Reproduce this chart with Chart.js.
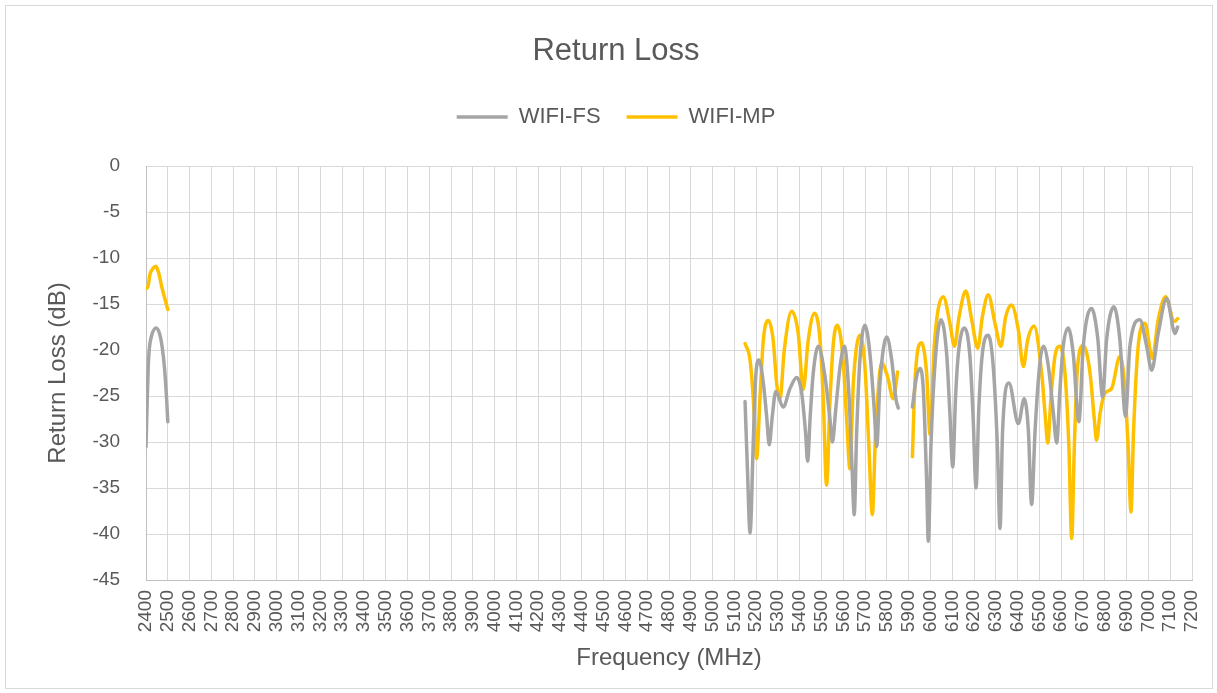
<!DOCTYPE html>
<html>
<head>
<meta charset="utf-8">
<title>Return Loss</title>
<script src="https://cdn.jsdelivr.net/npm/chart.js@4.4.1/dist/chart.umd.min.js"></script>
<style>
  html, body { margin: 0; padding: 0; background: #fff; }
  #frame {
    position: absolute; left: 5px; top: 5px; width: 1206px; height: 682px;
    border: 1px solid #d9d9d9; pointer-events: none;
  }
  #chart { position: absolute; left: 0; top: 0; }
</style>
</head>
<body>
<canvas id="chart" width="1217" height="693"></canvas>
<div id="frame"></div>
<script>
const freqFS = [
  2400, 2405, 2410, 2415, 2425, 2446, 2462, 2475, 2485, 2495, 2500,
  2550,
  5149, 5160, 5172, 5187, 5198, 5213, 5233, 5248, 5260, 5274, 5290, 5324,
  5355, 5386, 5409, 5427, 5436, 5448, 5462, 5485, 5516, 5539, 5550, 5565,
  5585, 5605, 5627, 5641, 5650, 5661, 5676, 5699, 5722, 5742, 5753, 5768,
  5799, 5822, 5842, 5852,
  5885,
  5917, 5936, 5952, 5967, 5982, 5990, 6002, 6021, 6048, 6074, 6089, 6102,
  6115, 6128, 6155, 6181, 6196, 6209, 6222, 6238, 6265, 6288, 6307, 6319,
  6331, 6360, 6403, 6430, 6449, 6464, 6480, 6502, 6518, 6541, 6564, 6579,
  6594, 6609, 6632, 6655, 6681, 6701, 6739, 6767, 6790, 6808, 6842, 6869,
  6895, 6915, 6961, 6992, 7015, 7045, 7084, 7122, 7134,
];
const lossFS = [
  -30.5, -26.0, -22.0, -19.9, -18.5, -17.6, -18.2, -19.8, -22.0, -25.5, -27.8,
  null,
  -25.6, -33.0, -39.9, -29.8, -22.9, -21.1, -23.6, -27.2, -30.3, -27.2, -24.5, -26.2,
  -24.2, -23.0, -24.7, -29.1, -32.1, -27.2, -22.5, -19.6, -22.9, -27.6, -30.0, -26.5,
  -21.8, -19.6, -25.4, -33.4, -37.9, -29.1, -21.1, -17.3, -20.4, -26.5, -30.5, -23.6,
  -18.6, -21.1, -25.4, -26.3,
  null,
  -26.2, -22.9, -22.0, -24.3, -34.1, -40.8, -30.5, -21.4, -16.7, -20.4, -26.9, -32.7,
  -25.1, -20.4, -17.6, -20.7, -27.6, -35.0, -26.2, -20.4, -18.4, -21.8, -30.5, -39.4,
  -28.7, -23.6, -28.0, -25.3, -28.7, -36.8, -28.7, -21.4, -19.6, -21.8, -26.9, -30.1,
  -24.3, -19.6, -17.6, -20.4, -27.8, -19.6, -15.5, -18.6, -25.1, -18.9, -15.3, -18.9,
  -27.2, -19.6, -16.7, -19.6, -22.2, -18.2, -14.4, -18.2, -17.5,
];

const freqMP = [
  2403, 2410, 2418, 2433, 2446, 2460, 2472, 2492, 2500,
  2550,
  5149, 5172, 5187, 5202, 5217, 5233, 5256, 5278, 5294, 5309, 5329, 5363,
  5393, 5416, 5439, 5468, 5493, 5508, 5523, 5539, 5554, 5573, 5599, 5617,
  5630, 5646, 5676, 5699, 5718, 5733, 5748, 5776, 5803, 5829, 5849,
  5885,
  5917, 5929, 5959, 5982, 5998, 6017, 6059, 6089, 6110, 6131, 6162, 6189,
  6217, 6238, 6265, 6296, 6323, 6345, 6372, 6403, 6426, 6446, 6475, 6510,
  6528, 6538, 6553, 6571, 6594, 6617, 6635, 6648, 6660, 6675, 6701, 6732,
  6752, 6762, 6778, 6800, 6831, 6869, 6889, 6907, 6920, 6932, 6953, 6984,
  7018, 7045, 7079, 7119, 7134,
];
const lossMP = [
  -13.3, -13.0, -11.8, -11.1, -10.9, -11.8, -13.1, -14.9, -15.6,
  null,
  -19.3, -21.1, -25.4, -31.8, -25.4, -18.9, -16.8, -18.9, -23.6, -25.4, -20.0, -15.8,
  -18.2, -24.3, -18.9, -16.0, -18.9, -25.4, -34.7, -25.4, -19.3, -17.3, -21.1, -28.3,
  -32.9, -23.6, -18.4, -21.8, -30.9, -37.9, -29.1, -21.4, -22.9, -25.3, -22.4,
  null,
  -31.6, -23.3, -19.2, -22.5, -29.2, -19.6, -14.2, -17.1, -19.6, -16.4, -13.6, -16.7,
  -19.8, -16.4, -14.0, -17.1, -19.6, -16.4, -15.1, -17.8, -21.8, -18.9, -17.4, -22.5,
  -27.6, -30.1, -25.1, -20.7, -19.6, -22.5, -30.5, -40.5, -30.5, -21.8, -19.5, -22.5,
  -27.6, -29.8, -26.9, -24.7, -24.2, -20.7, -23.3, -30.5, -37.6, -28.7, -19.6, -17.1,
  -20.9, -16.7, -14.2, -16.9, -16.6,
];

const freqTicks = [
  2400, 2500, 2600, 2700, 2800, 2900, 3000, 3100, 3200, 3300, 3400, 3500,
  3600, 3700, 3800, 3900, 4000, 4100, 4200, 4300, 4400, 4500, 4600, 4700,
  4800, 4900, 5000, 5100, 5200, 5300, 5400, 5500, 5600, 5700, 5800, 5900,
  6000, 6100, 6200, 6300, 6400, 6500, 6600, 6700, 6800, 6900, 7000, 7100, 7200,
];
const lossTicks = [0, -5, -10, -15, -20, -25, -30, -35, -40, -45];

const textColor = "#595959";
const fontFamily = "'Liberation Sans', Arial, sans-serif";
Chart.defaults.font.family = fontFamily;
Chart.defaults.color = textColor;

const toPoints = (xs, ys) => xs.map((x, i) => ({ x: x, y: ys[i] }));

// empty band between the legend and the plot area
const legendGap = {
  id: "legendGap",
  beforeInit(chart) {
    Chart.layouts.addBox(chart, {
      position: "top",
      weight: 100,
      fullSize: true,
      options: {},
      isHorizontal: () => true,
      update(maxWidth) {
        this.width = maxWidth;
        this.height = 28;
      },
      draw() {},
    });
  },
};

const lineStyle = (color) => ({
  borderColor: color,
  backgroundColor: color,
  pointBorderColor: color,
  borderWidth: 3.5,
  pointBorderWidth: 3.5,
  pointRadius: 0,
  borderCapStyle: "round",
  borderJoinStyle: "round",
  cubicInterpolationMode: "monotone",
});

new Chart(document.getElementById("chart"), {
  type: "line",
  data: {
    datasets: [
      { label: "WIFI-FS", data: toPoints(freqFS, lossFS), ...lineStyle("#A5A5A5") },
      { label: "WIFI-MP", data: toPoints(freqMP, lossMP), ...lineStyle("#FFC000") },
    ],
  },
  options: {
    responsive: false,
    animation: false,
    events: [],
    layout: { padding: { left: 40, right: 25, top: 0, bottom: 8 } },
    plugins: {
      title: {
        display: true,
        text: "Return Loss",
        color: textColor,
        font: { size: 31, weight: "normal" },
        padding: { top: 33, bottom: 9.8 },
      },
      legend: {
        labels: {
          usePointStyle: true,
          pointStyle: "line",
          pointStyleWidth: 51,
          padding: 26,
          color: textColor,
          font: { size: 22 },
        },
      },
      tooltip: { enabled: false },
    },
    scales: {
      x: {
        type: "linear",
        min: 2400,
        max: 7200,
        afterBuildTicks: (scale) => {
          scale.ticks = freqTicks.map((v) => ({ value: v }));
        },
        afterFit: (scale) => {
          scale.height = 105;
          scale.paddingLeft = 0;
          scale.paddingRight = 0;
        },
        ticks: {
          autoSkip: false,
          minRotation: 90,
          maxRotation: 90,
          padding: 10,
          font: { size: 19 },
          callback: (v) => String(v),
        },
        grid: { color: "#D9D9D9", drawTicks: false },
        border: { color: "#BFBFBF" },
        title: {
          display: true,
          text: "Frequency (MHz)",
          font: { size: 24 },
          padding: { top: 0, bottom: 12.6 },
        },
      },
      y: {
        min: -45,
        max: 0,
        afterBuildTicks: (scale) => {
          scale.ticks = lossTicks.map((v) => ({ value: v }));
        },
        afterFit: (scale) => {
          scale.width = 106;
        },
        ticks: {
          padding: 26,
          font: { size: 19 },
          callback: (v) => String(v),
        },
        grid: { color: "#D9D9D9", drawTicks: false },
        border: { color: "#BFBFBF" },
        title: {
          display: true,
          text: "Return Loss (dB)",
          font: { size: 24 },
          padding: { top: 3.6, bottom: 0 },
        },
      },
    },
  },
  plugins: [legendGap],
});
</script>
</body>
</html>
